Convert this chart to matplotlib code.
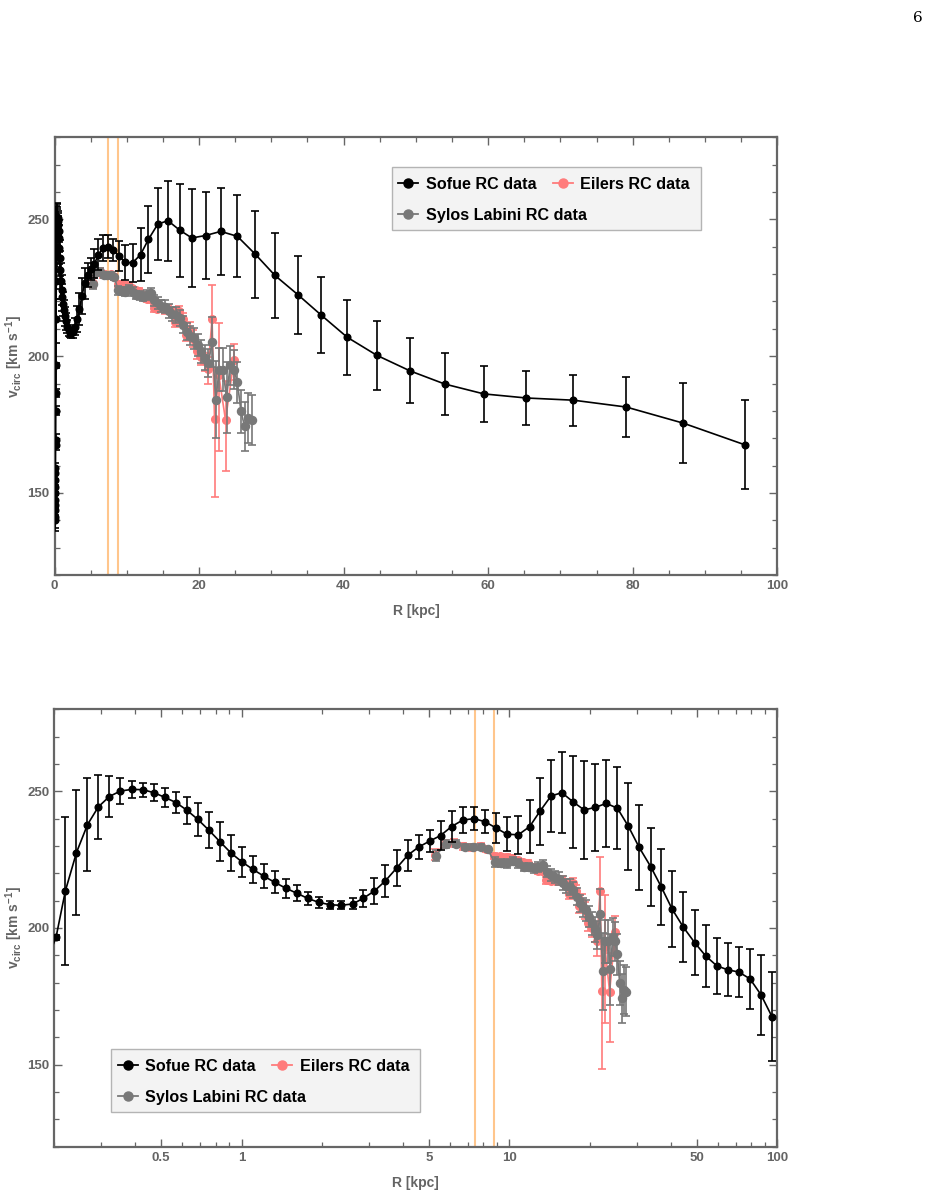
import numpy as np
import matplotlib
matplotlib.use("Agg")
import matplotlib.pyplot as plt
from matplotlib.lines import Line2D
from matplotlib.patches import Rectangle
from matplotlib.ticker import FixedLocator, NullFormatter, FixedFormatter

plt.rcParams['font.family'] = ['Liberation Sans', 'DejaVu Sans']
plt.rcParams['mathtext.fontset'] = 'custom'
plt.rcParams['mathtext.rm'] = 'Liberation Sans:bold'
plt.rcParams['mathtext.it'] = 'Liberation Sans:bold'
plt.rcParams['mathtext.bf'] = 'Liberation Sans:bold'

# ---------------- data ----------------
# Sofue grand rotation curve (inner points below 0.2 kpc only visible in the linear panel)
sofue_R = [0.060, 0.066, 0.072, 0.078, 0.085, 0.093, 0.101, 0.110, 0.120, 0.131,
           0.143, 0.156, 0.170, 0.185,
           0.203, 0.220, 0.242, 0.266, 0.292, 0.321, 0.353, 0.389, 0.428, 0.471,
           0.517, 0.569, 0.625, 0.687, 0.755, 0.830, 0.912, 1.00, 1.10, 1.21,
           1.33, 1.46, 1.61, 1.77, 1.94, 2.14, 2.35, 2.60, 2.84, 3.13,
           3.44, 3.79, 4.17, 4.58, 5.04, 5.53, 6.08, 6.70, 7.37, 8.10,
           8.91, 9.79, 10.8, 11.9, 13.0, 14.3, 15.7, 17.3, 19.0, 20.9,
           23.0, 25.3, 27.8, 30.5, 33.7, 36.9, 40.5, 44.6, 49.2, 54.0,
           59.4, 65.3, 71.8, 79.1, 87.0, 95.5]
sofue_v = [140.0, 141.3, 143.8, 145.6, 147.4, 149.9, 152.3, 154.8, 157.2, 159.0,
           167.6, 169.4, 180.1, 186.5,
           196.6, 213.6, 227.6, 237.8, 244.3, 248.1, 250.1, 250.7, 250.6, 249.5,
           247.8, 245.9, 243.1, 239.7, 235.8, 231.6, 227.5, 224.3, 221.5, 219.0,
           216.7, 214.6, 212.7, 210.8, 209.4, 208.5, 208.3, 208.8, 210.8, 213.5,
           217.2, 221.9, 226.6, 229.6, 231.8, 233.8, 237.1, 239.5, 240.0, 238.9,
           236.6, 234.3, 234.1, 237.1, 242.7, 248.3, 249.5, 246.1, 243.2, 244.1,
           245.6, 243.8, 237.2, 229.5, 222.4, 215.0, 206.9, 200.3, 194.6, 189.8,
           186.2, 184.7, 183.9, 181.4, 175.5, 167.6]
sofue_err = [4.0, 4.0, 3.5, 3.5, 3.0, 3.0, 2.5, 2.5, 2.0, 2.0,
             2.0, 2.0, 1.5, 1.5,
             1.0, 27.0, 22.7, 17.0, 11.7, 7.5, 4.6, 3.0, 2.5, 3.0,
             3.5, 4.0, 5.0, 6.0, 6.5, 7.0, 6.5, 5.5, 5.0, 4.5,
             4.0, 3.5, 3.0, 2.5, 2.0, 1.5, 1.5, 2.0, 3.0, 4.7,
             5.8, 6.6, 5.6, 4.3, 4.0, 5.4, 5.6, 4.7, 4.3, 4.1,
             5.6, 6.3, 7.0, 9.7, 12.3, 13.2, 14.7, 17.0, 18.0, 16.0,
             16.0, 15.0, 16.0, 15.5, 14.2, 13.9, 13.8, 12.7, 11.9, 11.4,
             10.3, 9.7, 9.3, 11.0, 14.6, 16.3]

# Eilers et al. rotation curve
eilers_R = [5.27, 5.74, 6.23, 6.73, 7.22, 7.82, 8.19, 8.78, 9.26, 9.76,
            10.26, 10.75, 11.25, 11.75, 12.25, 12.74, 13.23, 13.74, 14.24, 14.74,
            15.22, 15.74, 16.24, 16.74, 17.25, 17.75, 18.24, 18.74, 19.22, 19.71,
            20.27, 20.78, 21.24, 21.80, 22.14, 22.73, 23.66, 24.82]
eilers_v = [226.83, 230.80, 231.20, 229.88, 229.61, 229.91, 228.86, 226.50, 226.20, 225.94,
            225.68, 224.73, 224.02, 223.86, 222.23, 220.77, 220.92, 217.47, 217.31, 217.60,
            217.07, 217.38, 216.14, 212.52, 216.41, 213.70, 207.89, 209.60, 206.45, 201.91,
            199.84, 198.14, 195.30, 213.67, 176.97, 193.11, 176.63, 198.42]
eilers_elo = [1.9, 1.4, 1.7, 1.4, 1.4, 1.0, 1.0, 1.1, 1.0, 1.0,
              1.0, 1.0, 1.0, 1.0, 1.0, 1.0, 1.0, 1.2, 1.3, 1.3,
              1.5, 1.5, 1.6, 1.8, 2.0, 2.2, 2.4, 3.2, 3.2, 3.0,
              3.1, 3.4, 5.4, 8.5, 28.6, 27.7, 18.5, 7.0]
eilers_ehi = [1.9, 1.4, 1.2, 1.3, 1.2, 1.0, 1.0, 1.0, 1.0, 1.0,
              1.0, 1.0, 1.0, 1.0, 1.0, 1.0, 1.0, 1.2, 1.3, 1.3,
              1.5, 1.5, 1.6, 1.8, 2.0, 2.2, 2.4, 3.0, 3.0, 2.8,
              2.8, 3.0, 4.5, 12.2, 18.8, 19.0, 14.3, 6.1]

# Sylos Labini et al. rotation curve
sylos_R = [5.3, 5.8, 6.3, 6.8, 7.3, 7.8, 8.3, 8.8, 9.3, 9.8,
           10.3, 10.8, 11.3, 11.8, 12.3, 12.8, 13.3, 13.8, 14.3, 14.8,
           15.3, 15.8, 16.3, 16.8, 17.3, 17.8, 18.3, 18.8, 19.3, 19.8,
           20.3, 20.8, 21.3, 21.8, 22.3, 22.8, 23.3, 23.8, 24.3, 24.8,
           25.3, 25.8, 26.3, 26.8, 27.3]
sylos_v = [226.5, 230.7, 230.9, 229.7, 229.7, 229.7, 228.8, 224.0, 223.8, 223.6,
           224.5, 223.6, 222.4, 222.2, 221.8, 222.4, 223.0, 220.5, 219.5, 218.5,
           218.0, 216.5, 215.5, 215.0, 214.0, 211.5, 209.0, 207.5, 206.5, 204.2,
           201.8, 199.5, 197.5, 205.2, 184.1, 195.1, 195.1, 184.9, 196.6, 195.1,
           190.4, 179.8, 174.3, 177.4, 176.7]
sylos_err = [2.0, 1.5, 1.2, 1.0, 1.0, 1.0, 1.0, 1.8, 1.5, 1.5,
             1.5, 1.5, 1.5, 1.5, 1.5, 1.8, 2.0, 2.0, 2.2, 2.2,
             2.4, 2.5, 2.6, 2.8, 3.0, 3.0, 3.2, 3.5, 3.8, 4.0,
             4.2, 4.5, 5.0, 9.0, 14.0, 8.0, 8.0, 13.0, 7.0, 7.0,
             7.5, 8.0, 9.0, 9.0, 9.0]

sun_lines = [7.47, 8.77]

labels = ["Sofue RC data", "Eilers RC data", "Sylos Labini RC data"]

# ---------------- style ----------------
FRAME = '#666666'
TXT = '#646464'
C_SOF = 'black'
C_EIL = '#ff7b7b'
C_SYL = '#787878'
C_SUN = '#ffc68c'
W, H = 930, 1194

fig = plt.figure(figsize=(9.3, 11.94), dpi=100)
fig.text(918/W, 1 - 18/H, '6', family='DejaVu Serif', fontsize=11,
         ha='center', va='center')

ax1 = fig.add_axes([54.5/W, 1 - 575/H, (777.3 - 54.5)/W, 437.7/H])
ax2 = fig.add_axes([54.3/W, 1 - 1146.7/H, (777.3 - 54.3)/W, 437.4/H])


def draw(ax):
    for x in sun_lines:
        ax.axvline(x, color=C_SUN, lw=1.5, zorder=1)
    ax.errorbar(eilers_R, eilers_v, yerr=[eilers_elo, eilers_ehi], color=C_EIL,
                ecolor=C_EIL, lw=1.2, elinewidth=1.2, capsize=3, capthick=1.2,
                marker='o', ms=5.5, zorder=2)
    ax.errorbar(sylos_R, sylos_v, yerr=sylos_err, color=C_SYL, ecolor=C_SYL,
                lw=1.2, elinewidth=1.2, capsize=3, capthick=1.2,
                marker='o', ms=5.8, zorder=3)
    ax.errorbar(sofue_R, sofue_v, yerr=sofue_err, color=C_SOF, ecolor=C_SOF,
                lw=1.2, elinewidth=1.2, capsize=3, capthick=1.2,
                marker='o', ms=4.8, zorder=4)
    ax.set_ylim(120, 280)
    for s in ax.spines.values():
        s.set_color(FRAME)
        s.set_linewidth(1.6)
    ax.tick_params(which='both', direction='in', top=True, right=True,
                   colors=FRAME, labelcolor=TXT, labelsize=9.5)
    ax.tick_params(which='major', length=6, width=1.0)
    ax.tick_params(which='minor', length=3.5, width=0.9)
    ax.yaxis.set_major_locator(FixedLocator([150, 200, 250]))
    ax.yaxis.set_minor_locator(FixedLocator(np.arange(120, 281, 10)))
    ax.set_xlabel('R [kpc]', fontsize=10, fontweight='bold', color=TXT, labelpad=9)
    ax.set_ylabel(r'$v_{\rm circ}$ [km s$^{-1}$]', fontsize=10,
                  fontweight='bold', color=TXT, labelpad=2)
    for t in ax.get_yticklabels():
        t.set_fontweight('bold')


def legend(bx, by):
    """Mathematica-style legend box; bx, by = top-left corner in figure pixels."""
    def fx(x):
        return (bx + x) / W

    def fy(y):
        return 1 - (by + y) / H
    fig.add_artist(Rectangle((fx(0), fy(63)), 309 / W, 63 / H,
                             transform=fig.transFigure, facecolor='#f3f3f3',
                             edgecolor='#b4b4b4', lw=1.0, zorder=5))
    entries = [(labels[0], C_SOF, 6.5, 16), (labels[1], C_EIL, 161, 16),
               (labels[2], C_SYL, 6.5, 47)]
    for lab, col, x0, yc in entries:
        fig.add_artist(Line2D([fx(x0), fx(x0 + 20)], [fy(yc), fy(yc)],
                              transform=fig.transFigure, color=col, lw=1.3,
                              zorder=6))
        fig.add_artist(Line2D([fx(x0 + 10)], [fy(yc)], transform=fig.transFigure,
                              color=col, marker='o', ms=6.5, zorder=7))
        fig.text(fx(x0 + 27.5), fy(yc), lab, fontsize=11.6, fontweight='bold',
                 color='black', ha='left', va='center_baseline', zorder=8)


draw(ax1)
ax1.set_xlim(0, 100)
ax1.xaxis.set_major_locator(FixedLocator([0, 20, 40, 60, 80, 100]))
ax1.xaxis.set_minor_locator(FixedLocator(np.arange(0, 101, 5)))
for t in ax1.get_xticklabels():
    t.set_fontweight('bold')
legend(391.7, 167.3)

draw(ax2)
ax2.set_xscale('log')
ax2.set_xlim(0.2, 100)
maj = [0.5, 1, 5, 10, 50, 100]
ax2.xaxis.set_major_locator(FixedLocator(maj))
ax2.xaxis.set_major_formatter(FixedFormatter(['0.5', '1', '5', '10', '50', '100']))
mins = [0.2, 0.3, 0.4, 0.6, 0.7, 0.8, 0.9, 2, 3, 4, 6, 7, 8, 9,
        20, 30, 40, 60, 70, 80, 90]
ax2.xaxis.set_minor_locator(FixedLocator(mins))
ax2.xaxis.set_minor_formatter(NullFormatter())
for t in ax2.get_xticklabels():
    t.set_fontweight('bold')
legend(111, 1049)

fig.savefig('out.png', dpi=100)
